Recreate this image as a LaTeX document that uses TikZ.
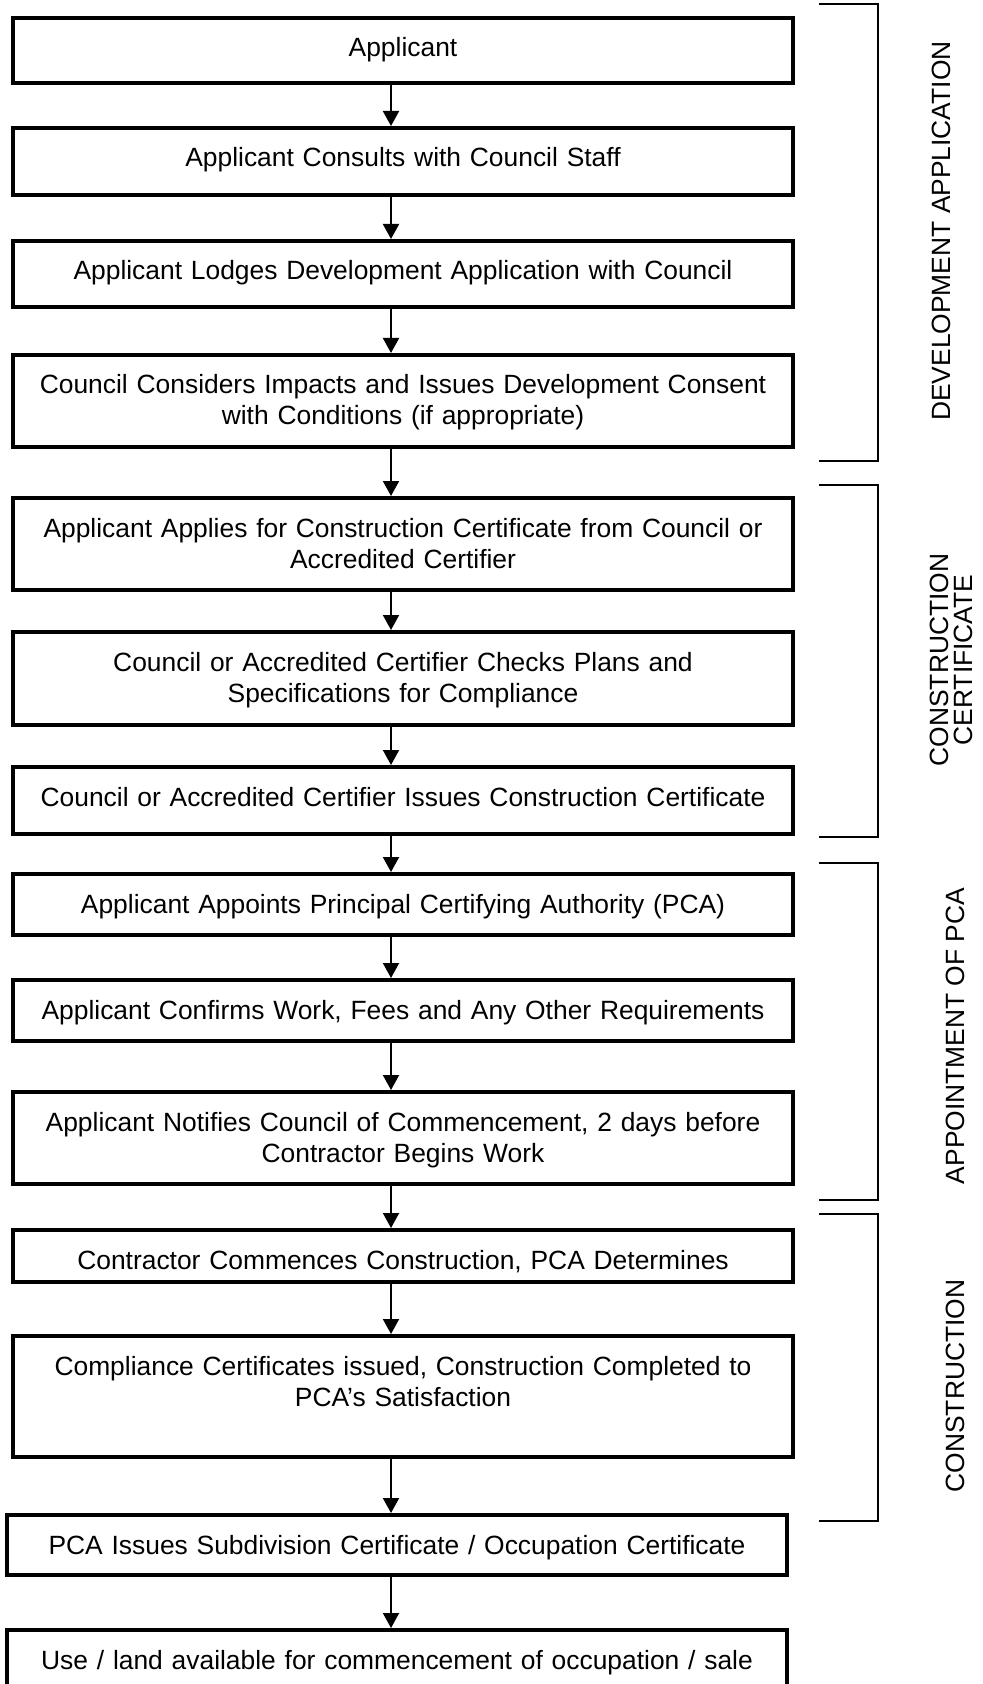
\documentclass[tikz,border=0pt]{standalone}
\usepackage{fontspec}
\setmainfont{Liberation Sans}
\usetikzlibrary{arrows.meta}

\begin{document}
\begin{tikzpicture}
  [x=0.5pt,y=-0.5pt,
   stage/.style={draw=black,line width=2pt,anchor=north,inner sep=0pt,
     text width=390pt,align=center,text height=19.5pt,text depth=#1,
     font=\fontsize{13.2}{15.5}\selectfont},
   phase/.style={rotate=90,align=center,font=\fontsize{13.2}{12}\selectfont},
   link/.style={line width=1pt,-{Triangle[width=8pt,length=7.5pt]}},
   bracket/.style={line width=1pt}]

  \useasboundingbox (0,0) rectangle (983,1684);

  \node[stage=13pt] (b1) at (403,16) {Applicant};
  \node[stage=14pt] (b2) at (403,126) {Applicant Consults with Council Staff};
  \node[stage=13.5pt] (b3) at (403,239) {Applicant Lodges Development Application with Council};
  \node[stage=26.5pt] (b4) at (403,353) {Council Considers Impacts and Issues Development Consent\\with Conditions (if appropriate)};
  \node[stage=26.5pt] (b5) at (403,496) {Applicant Applies for Construction Certificate from Council or\\Accredited Certifier};
  \node[stage=27pt] (b6) at (403,630) {Council or Accredited Certifier Checks Plans and\\Specifications for Compliance};
  \node[stage=14pt] (b7) at (403,765) {Council or Accredited Certifier Issues Construction Certificate};
  \node[stage=11pt] (b8) at (403,872) {Applicant Appoints Principal Certifying Authority (PCA)};
  \node[stage=11pt] (b9) at (403,978) {Applicant Confirms Work, Fees and Any Other Requirements};
  \node[stage=26.5pt] (b10) at (403,1090) {Applicant Notifies Council of Commencement, 2 days before\\Contractor Begins Work};
  \node[stage=6.5pt] (b11) at (403,1228) {Contractor Commences Construction, PCA Determines};
  \node[stage=41pt] (b12) at (403,1334) {Compliance Certificates issued, Construction Completed to\\PCA’s Satisfaction};
  \node[stage=10.5pt] (b13) at (397,1513) {PCA Issues Subdivision Certificate / Occupation Certificate};
  \node[stage=8.5pt] (b14) at (397,1628) {Use / land available for commencement of occupation / sale};

  \coordinate (ax) at (391,0);
  \foreach \from/\to in {b1/b2,b2/b3,b3/b4,b4/b5,b5/b6,b6/b7,b7/b8,b8/b9,b9/b10,b10/b11,b11/b12,b12/b13,b13/b14}
    \draw[link] (\from.south -| ax) -- (\to.north -| ax);

  % phase brackets
  \foreach \top/\bot in {4/461,485/837,863/1200,1214/1521}
    \draw[bracket] (819,\top) -- (878,\top) -- (878,\bot) -- (819,\bot);

  \node[phase] (devapp) at (941,231) {DEVELOPMENT APPLICATION};
  \node[phase] (concert) at (951,660) {CONSTRUCTION\\CERTIFICATE};
  \node[phase] (apppca) at (955,1036) {APPOINTMENT OF PCA};
  \node[phase] (constr) at (955,1386) {CONSTRUCTION};

\end{tikzpicture}
\end{document}
